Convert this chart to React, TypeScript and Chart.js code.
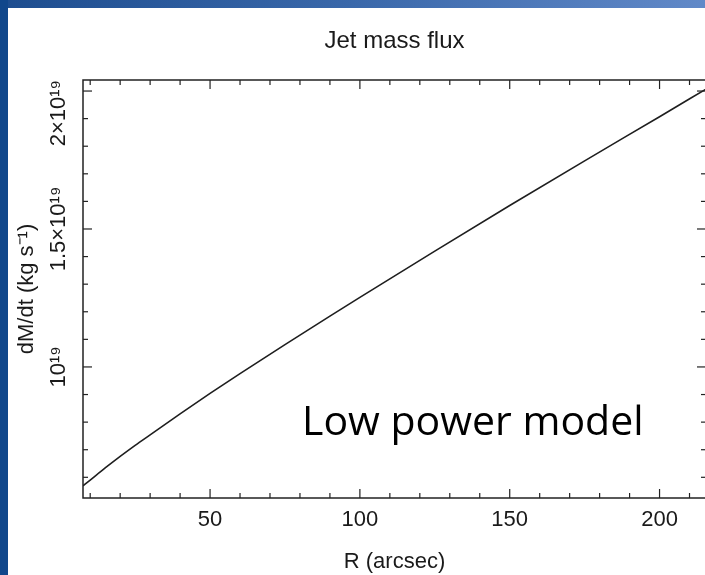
import React, { useEffect, useRef } from "react";
import { Chart, registerables } from "chart.js";

Chart.register(...registerables);

// Radius along the jet (arcsec)
const radius = [7.6, 10, 15, 20, 25, 30, 40, 50, 60, 75, 90, 100, 125, 150, 175, 200, 215.5];
// Jet mass flux dM/dt in units of 10^19 kg/s
const massFlux = [0.569, 0.59, 0.634, 0.676, 0.716, 0.754, 0.83, 0.904, 0.976, 1.081, 1.184, 1.252, 1.42, 1.585, 1.747, 1.907, 2.007];

const xRange = [7.6, 215.5];
const yRange = [0.525, 2.04];
const xMajorTicks = [50, 100, 150, 200];
const xMinorStep = 10;
const yMajorTicks = [1, 1.5, 2];
const yTickLabels = ["10\u00b9\u2079", "1.5\u00d710\u00b9\u2079", "2\u00d710\u00b9\u2079"];
const yMinorStep = 0.1;

const titleText = "Jet mass flux";
const xTitle = "R (arcsec)";
const yTitle = "dM/dt (kg s\u207b\u00b9)";
const noteText = "Low power model";

const FONT = "'Liberation Sans', Arial, Helvetica, sans-serif";
const INK = "#1a1a1a";

const framePlugin = {
  id: "frame",
  afterDraw(chart: any) {
    const { ctx, chartArea, scales } = chart;
    const { left, right, top, bottom } = chartArea;
    const x = scales.x;
    const y = scales.y;
    ctx.save();
    ctx.strokeStyle = "#222";
    ctx.lineWidth = 1.5;
    ctx.strokeRect(left, top, right - left, bottom - top);

    ctx.lineWidth = 1.2;
    const seg = (x1: number, y1: number, x2: number, y2: number) => {
      ctx.beginPath();
      ctx.moveTo(x1, y1);
      ctx.lineTo(x2, y2);
      ctx.stroke();
    };
    // x ticks (inward, bottom and top)
    for (let k = Math.ceil(x.min / xMinorStep); k * xMinorStep <= x.max; k++) {
      const v = k * xMinorStep;
      const px = x.getPixelForValue(v);
      const len = xMajorTicks.some((m) => Math.abs(m - v) < 1e-9) ? 9 : 5;
      seg(px, bottom, px, bottom - len);
      seg(px, top, px, top + len);
    }
    // y ticks (inward, left and right)
    for (let k = Math.ceil(y.min / yMinorStep - 1e-9); k * yMinorStep <= y.max + 1e-9; k++) {
      const v = k * yMinorStep;
      const py = y.getPixelForValue(v);
      const len = yMajorTicks.some((m) => Math.abs(m - v) < 1e-6) ? 9 : 5;
      seg(left, py, left + len, py);
      seg(right, py, right - len, py);
    }

    // rotated y tick labels, kept within the plot's vertical extent
    ctx.fillStyle = INK;
    ctx.font = `22px ${FONT}`;
    ctx.textAlign = "center";
    ctx.textBaseline = "alphabetic";
    yMajorTicks.forEach((v, i) => {
      const label = yTickLabels[i];
      const w = ctx.measureText(label).width;
      let c = y.getPixelForValue(v);
      if (c - w / 2 < top) c = top + w / 2;
      if (c + w / 2 > bottom) c = bottom - w / 2;
      ctx.save();
      ctx.translate(left - 18, c);
      ctx.rotate(-Math.PI / 2);
      ctx.fillText(label, 0, 0);
      ctx.restore();
    });

    // slide annotation
    ctx.font = "41px 'Open Sans', 'Noto Sans', sans-serif";
    ctx.textAlign = "left";
    ctx.fillStyle = "#000";
    ctx.fillText(noteText, 294, 427);
    ctx.restore();
  },
};

export default function App() {
  const ref = useRef<HTMLCanvasElement | null>(null);

  useEffect(() => {
    if (!ref.current) return;
    const chart = new Chart(ref.current, {
      type: "line",
      data: {
        datasets: [
          {
            data: radius.map((r, i) => ({ x: r, y: massFlux[i] })),
            borderColor: "#1e1e1e",
            borderWidth: 1.6,
            pointRadius: 0,
            fill: false,
            cubicInterpolationMode: "monotone",
          },
        ],
      },
      options: {
        animation: false,
        responsive: false,
        maintainAspectRatio: false,
        devicePixelRatio: 1,
        layout: { padding: { left: 0, right: 7, top: 0, bottom: 0 } },
        plugins: {
          legend: { display: false },
          tooltip: { enabled: false },
          title: {
            display: true,
            fullSize: false,
            text: titleText,
            color: INK,
            font: { family: FONT, size: 24, weight: "normal", lineHeight: 1.15 },
            padding: { top: 19.2, bottom: 25.2 },
          },
        },
        scales: {
          x: {
            type: "linear",
            min: xRange[0],
            max: xRange[1],
            grid: { display: false, drawTicks: false },
            border: { display: false },
            afterBuildTicks: (s: any) => {
              s.ticks = xMajorTicks.map((v) => ({ value: v }));
            },
            ticks: {
              autoSkip: false,
              maxRotation: 0,
              padding: 8.3,
              color: INK,
              font: { family: FONT, size: 22 },
              callback: (v: any) => String(v),
            },
            title: {
              display: true,
              text: xTitle,
              color: INK,
              font: { family: FONT, size: 22 },
              padding: { top: 0, bottom: 0 },
            },
            afterFit: (s: any) => {
              s.height = 77;
            },
          },
          y: {
            type: "linear",
            min: yRange[0],
            max: yRange[1],
            grid: { display: false, drawTicks: false },
            border: { display: false },
            ticks: { display: false },
            title: {
              display: true,
              text: yTitle,
              color: INK,
              font: { family: FONT, size: 22 },
              padding: { top: 5.8, bottom: 0 },
            },
            afterFit: (s: any) => {
              s.width = 75;
            },
          },
        },
      } as any,
      plugins: [framePlugin],
    });
    return () => chart.destroy();
  }, []);

  return (
    <div>
      <div
        style={{
          position: "fixed",
          left: 0,
          top: 0,
          width: 705,
          height: 575,
          background: "linear-gradient(to right, #1d4d8f 0%, #3a68aa 50%, #6189c8 100%)",
        }}
      />
      <div
        style={{
          position: "fixed",
          left: 0,
          top: 0,
          width: 8,
          height: 575,
          background: "#11478b",
        }}
      />
      <div
        style={{
          position: "fixed",
          left: 8,
          top: 8,
          width: 697,
          height: 567,
          overflow: "hidden",
          background: "#ffffff",
        }}
      >
        <canvas ref={ref} width={705} height={567} style={{ width: 705, height: 567, display: "block" }} />
      </div>
    </div>
  );
}
